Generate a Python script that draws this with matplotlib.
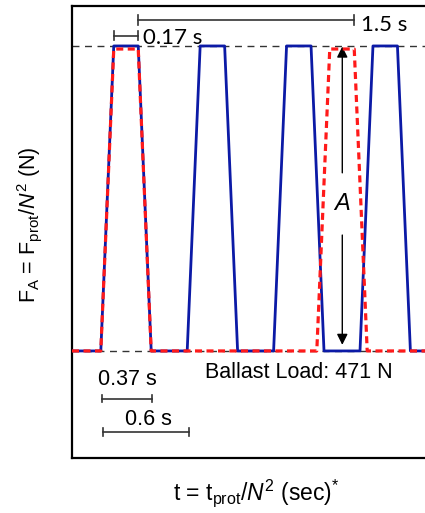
import matplotlib
matplotlib.use("Agg")
import matplotlib.pyplot as plt

plt.rcParams['font.family'] = ['Liberation Sans', 'DejaVu Sans']
plt.rcParams['mathtext.fontset'] = 'custom'
plt.rcParams['mathtext.rm'] = 'Liberation Sans'
plt.rcParams['mathtext.it'] = 'Liberation Sans:italic'
plt.rcParams['mathtext.bf'] = 'Liberation Sans:bold'

# Blue (solid) pulse train: time (s) and normalized force
blue_t = [0.0, 0.20, 0.29, 0.46, 0.55, 0.80, 0.89, 1.06, 1.15,
          1.40, 1.49, 1.66, 1.75, 2.00, 2.09, 2.26, 2.35, 2.60]
blue_f = [0, 0, 1, 1, 0, 0, 1, 1, 0, 0, 1, 1, 0, 0, 1, 1, 0, 0]

# Red (dashed) pulse train
red_t = [0.0, 0.20, 0.29, 0.46, 0.55, 1.70, 1.79, 1.96, 2.05, 2.60]
red_f = [0, 0, 0.99, 0.99, 0, 0, 0.99, 0.99, 0, 0]

baseline = 0.0
peak = 1.0

fig = plt.figure(figsize=(4.25, 5.13), dpi=100)
ax = fig.add_axes([72/425, 1-458.3/513, 360/425, 452.6/513])
ax.set_xlim(0, 2.5)
ax.set_ylim(-0.352, 1.132)

for s in ax.spines.values():
    s.set_linewidth(1.6)
    s.set_color('black')
ax.set_xticks([])
ax.set_yticks([])

ax.axhline(peak, color='#333333', lw=1.0, ls=(0, (5, 4)), zorder=1)
ax.axhline(baseline, color='#333333', lw=1.0, ls=(0, (5, 4)), zorder=1)

ax.plot(blue_t, blue_f, color='#0c1aa6', lw=2.0, zorder=3)
ax.plot(red_t, red_f, color='#ff1a1a', lw=2.3, ls=(0, (2.2, 1.4)), zorder=4)

def hbar(x0, x1, y, cap=0.016):
    ax.plot([x0, x1], [y, y], color='#333333', lw=1.2, clip_on=False)
    ax.plot([x0, x0], [y-cap, y+cap], color='#333333', lw=1.2, clip_on=False)
    ax.plot([x1, x1], [y-cap, y+cap], color='#333333', lw=1.2, clip_on=False)

hbar(0.46, 1.96, 1.085)
ax.text(2.01, 1.075, '1.5 s', fontsize=16, family=['Lato', 'DejaVu Sans'],
        va='center_baseline', ha='left')
hbar(0.29, 0.46, 1.034)
ax.text(0.495, 1.033, '0.17 s', fontsize=16, family=['Lato', 'DejaVu Sans'],
        va='center_baseline', ha='left')

hbar(0.205, 0.555, -0.156, cap=0.013)
ax.text(0.382, -0.085, '0.37 s', fontsize=15.5, va='center_baseline', ha='center')
hbar(0.213, 0.815, -0.267, cap=0.013)
ax.text(0.53, -0.215, '0.6 s', fontsize=15.5, va='center_baseline', ha='center')

ax.text(1.576, -0.062, 'Ballast Load: 471 N', fontsize=15.5,
        va='center_baseline', ha='center')

# amplitude arrows
ax.annotate('', xy=(1.877, 0.998), xytext=(1.877, 0.584),
            arrowprops=dict(arrowstyle='-|>', color='black', lw=1.0,
                            mutation_scale=16, shrinkA=0, shrinkB=0))
ax.annotate('', xy=(1.877, 0.02), xytext=(1.877, 0.38),
            arrowprops=dict(arrowstyle='-|>', color='black', lw=1.0,
                            mutation_scale=16, shrinkA=0, shrinkB=0))
ax.text(1.877, 0.485, 'A', fontsize=17, style='italic', ha='center', va='center')

fig.text(30/425, 1-225/513, r'F$_{\mathrm{A}}$ = F$_{\mathrm{prot}}$/$\mathit{N}^{2}$ (N)',
         rotation=90, fontsize=15.5, ha='center', va='center')
fig.text(256/425, 1-493/513, r't = t$_{\mathrm{prot}}$/$\mathit{N}^{2}$ (sec)$^{*}$',
         fontsize=16.5, ha='center', va='center')

fig.savefig('out.png', dpi=100)
